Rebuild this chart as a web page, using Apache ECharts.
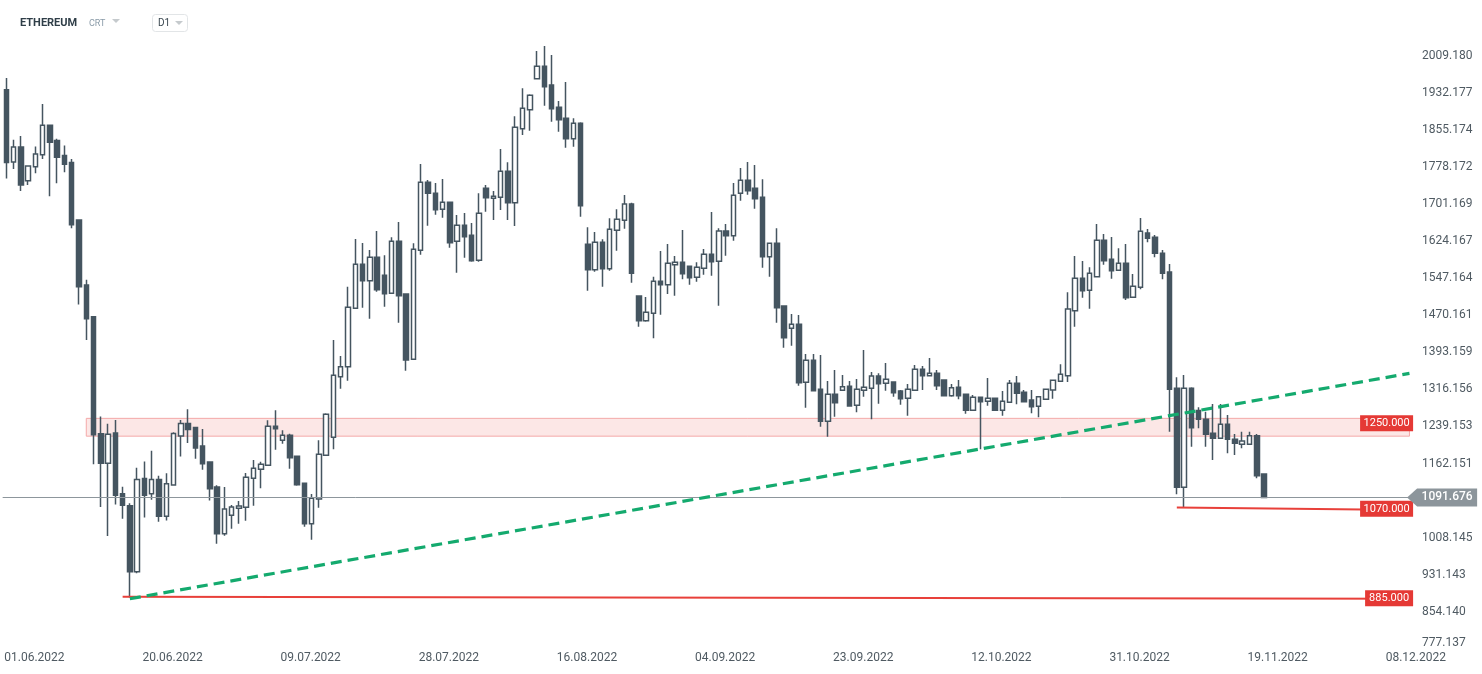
<!DOCTYPE html>
<html><head><meta charset="utf-8">
<script src="https://cdn.jsdelivr.net/npm/echarts@6/dist/echarts.min.js"></script>
<style>html,body{margin:0;padding:0;background:#fff;}#c{width:1482px;height:674px;}</style>
</head><body><div id="c"></div>
<script>
// rows: [open, high, low, close]
const junOHLC = [
[1939.0,1963.4,1754.5,1787.8],[1789.2,1835.0,1774.5,1820.2],[1820.2,1843.1,1728.7,1741.3],[1750.1,1781.0,1741.3,1780.4],
[1778.9,1821.0,1765.6,1805.5],[1804.0,1909.5,1795.1,1865.2],[1865.2,1866.5,1717.7,1829.8],[1833.5,1837.2,1744.9,1798.8],
[1802.5,1823.2,1767.8,1784.1],[1787.8,1795.1,1651.2,1658.6],[1668.2,1669.7,1492.6,1529.5],[1533.2,1544.2,1418.8,1463.0],
[1467.5,1468.0,1160.5,1221.7],[1223.9,1260.1,1071.9,1162.7],[1162.7,1244.6,1011.4,1223.2],[1225.4,1252.7,1077.1,1096.3],
[1099.2,1114.0,1047.5,1075.6],[1074.1,1079.3,883.7,936.9],[936.9,1153.1,933.9,1128.7],[1130.9,1166.4,1049.8,1096.3],
[1099.2,1188.5,1086.6,1128.7],[1128.7,1136.8,1040.9,1052.7],[1052.7,1142.0,1043.8,1119.9],[1117.7,1227.0,1116.2,1224.7],
[1219.5,1252.7,1176.7,1245.3],[1245.3,1274.9,1204.7,1232.8],[1236.9,1237.5,1172.0,1194.4],[1198.6,1233.9,1149.4,1161.9],
[1165.3,1166.0,1085.0,1109.9],[1113.4,1116.8,995.5,1016.3]
];
const julOHLC = [
[1016.3,1113.4,1012.2,1067.6],[1054.4,1075.9,1026.7,1071.8],[1069.0,1084.2,1037.1,1073.8],[1071.1,1142.4,1043.4,1133.4],
[1131.4,1169.5,1074.5,1152.2],[1150.1,1166.0,1110.6,1160.5],[1158.4,1252.0,1157.0,1239.5],[1239.5,1272.7,1191.0,1234.6],
[1210.4,1231.2,1203.4,1220.8],[1220.8,1224.2,1151.5,1174.3],[1177.1,1178.0,1116.1,1118.2],[1121.0,1122.0,1030.9,1037.1],
[1037.1,1098.8,1003.9,1089.8],[1088.4,1210.4,1070.4,1181.3],[1179.2,1266.5,1178.0,1264.4],[1216.6,1418.9,1191.6,1345.5],
[1342.7,1385.7,1317.8,1363.5],[1363.5,1529.8,1334.4,1486.8],[1484.8,1628.9,1484.0,1576.2],[1576.2,1620.6,1486.2,1542.3],
[1542.3,1606.0,1463.3,1590.8],[1590.8,1645.6,1519.4,1523.6],[1553.4,1595.0,1488.2,1515.3],[1516.0,1632.4,1515.0,1624.1],
[1624.1,1664.3,1455.0,1511.1],[1514.6,1515.5,1355.2,1377.4],[1378.8,1619.9,1378.0,1607.4],[1605.4,1784.8,1596.4,1746.7],
[1746.7,1751.6,1656.6,1723.9],[1723.9,1745.3,1679.5,1689.9],[1690.6,1753.7,1673.3,1705.1]
];
const augOHLC = [
[1705.1,1706.0,1610.9,1621.3],[1624.1,1678.8,1558.9,1657.3],[1657.3,1683.0,1590.1,1633.8],[1636.5,1662.2,1581.8,1583.9],
[1584.6,1723.9,1581.8,1682.3],[1734.2,1741.2,1685.7,1714.8],[1713.4,1728.7,1668.4,1717.6],[1715.5,1816.0,1689.2,1769.6],
[1769.6,1788.3,1668.4,1704.4],[1704.4,1883.9,1655.9,1861.0],[1858.3,1942.1,1845.1,1900.5],[1897.8,1929.7,1854.1,1927.6],
[1962.2,2019.7,1960.8,1987.9],[1987.9,2030.1,1906.1,1945.6],[1949.1,2011.4,1872.8,1899.9],[1902.6,1915.8,1852.0,1877.0],
[1879.7,1955.3,1818.8,1837.5],[1837.5,1879.7,1820.8,1869.4],[1869.4,1871.4,1675.3,1698.2],[1617.8,1653.1,1521.5,1565.1],
[1565.1,1643.4,1561.0,1621.9],[1621.9,1628.2,1529.8,1567.2],[1567.2,1671.8,1563.0,1649.0],[1646.9,1690.6,1604.6,1669.8],
[1667.7,1720.4,1650.4,1701.7],[1701.7,1704.4,1538.1,1557.5],[1510.4,1511.0,1446.6,1459.1],[1459.1,1508.3,1457.1,1476.5],
[1474.4,1550.6,1422.4,1540.9],[1540.9,1604.0,1471.6,1534.0],[1534.0,1618.5,1514.6,1578.3]
];
const sepOHLC = [
[1575.6,1593.6,1511.1,1580.4],[1580.4,1647.6,1545.1,1556.8],[1572.1,1573.0,1534.0,1548.5],[1549.2,1580.4,1540.2,1570.0],
[1567.9,1608.1,1554.8,1597.1],[1597.1,1685.1,1552.7,1581.8],[1582.5,1651.1,1490.3,1645.6],[1645.6,1660.1,1594.3,1635.8],
[1635.8,1745.3,1625.4,1719.7],[1723.9,1776.5,1708.6,1750.9],[1750.9,1789.0,1721.1,1729.4],[1734.2,1782.8,1692.0,1712.8],
[1715.5,1752.9,1569.3,1592.2],[1592.2,1620.5,1550.6,1619.9],[1619.9,1651.1,1455.0,1486.2],[1489.6,1490.5,1403.0,1423.8],
[1443.2,1473.0,1407.2,1451.5],[1451.5,1470.9,1324.0,1330.2],[1330.9,1389.8,1278.3,1376.7],[1376.7,1389.8,1313.0,1313.6],
[1316.4,1387.8,1238.8,1249.9],[1249.9,1333.7,1218.0,1306.0],[1306.0,1356.6,1259.6,1288.7],[1314.3,1346.2,1313.5,1321.9],
[1322.6,1333.7,1280.3,1281.7],[1283.1,1337.9,1268.6,1316.4],[1314.3,1398.2,1301.1,1320.5],[1318.5,1352.4,1254.0,1344.1],
[1344.1,1349.6,1286.6,1328.2],[1328.9,1371.1,1313.6,1337.2]
];
const octOHLC = [
[1331.6,1332.5,1301.1,1309.5],[1312.9,1315.0,1284.5,1297.0],[1297.7,1327.5,1261.6,1316.4],[1314.3,1367.0,1313.5,1358.0],
[1358.0,1364.9,1315.0,1344.8],[1344.8,1381.5,1344.0,1349.6],[1349.6,1356.6,1315.0,1324.0],[1335.8,1336.5,1302.5,1303.2],
[1303.2,1327.5,1301.1,1319.9],[1320.5,1335.8,1295.6,1303.2],[1306.0,1306.5,1265.8,1272.7],[1272.7,1304.6,1272.0,1299.7],
[1299.7,1301.0,1191.6,1290.7],[1291.4,1339.9,1282.4,1297.7],[1297.7,1298.5,1272.0,1272.7],[1272.7,1312.9,1261.6,1291.4],
[1289.3,1335.8,1288.5,1328.9],[1328.9,1344.1,1285.2,1308.1],[1310.1,1315.0,1290.0,1290.7],[1294.2,1315.0,1266.5,1280.3],
[1281.0,1301.5,1258.2,1301.1],[1295.6,1316.8,1294.2,1316.4],[1315.0,1335.5,1297.0,1335.1],[1333.0,1368.4,1332.5,1347.6],
[1344.8,1518.0,1331.6,1483.4],[1479.9,1593.6,1446.7,1547.1],[1547.1,1583.2,1507.0,1521.5],[1522.2,1570.0,1484.1,1557.5],
[1550.6,1660.1,1550.0,1626.1],[1626.1,1639.3,1575.6,1583.9],[1586.6,1633.1,1546.5,1563.1]
];
const novOHLC = [
[1563.8,1609.5,1563.0,1578.3],[1578.3,1618.5,1502.1,1506.9],[1507.6,1556.2,1507.0,1530.5],[1528.4,1672.6,1524.3,1644.9],
[1641.4,1649.7,1622.0,1630.3],[1632.4,1637.2,1590.8,1599.1],[1599.1,1606.0,1545.1,1557.5],[1560.3,1576.9,1228.4,1316.4],
[1318.5,1341.3,1098.1,1112.6],[1112.6,1346.2,1070.0,1318.5],[1318.5,1320.6,1197.2,1236.7],[1272.1,1279.0,1235.3,1254.0],
[1254.0,1270.0,1197.2,1222.9],[1224.9,1285.9,1169.5,1214.5],[1214.5,1285.9,1214.0,1243.6],[1243.6,1263.1,1183.4,1212.5],
[1212.5,1223.6,1179.9,1204.1],[1202.1,1228.4,1193.8,1209.0],[1202.1,1228.4,1201.5,1220.1],[1220.1,1223.6,1131.4,1136.9],
[1140.4,1141.8,1089.8,1091.676]
];
const lastPrice = 1091.676;
const yTickLabels = ['777.137','854.140','931.143','1008.145','1162.151','1239.153','1316.156','1393.159','1470.161','1547.164','1624.167','1701.169','1778.172','1855.174','1932.177','2009.180'];
const zoneTop = 1256, zoneBottom = 1219, zoneStartIdx = 11;
const trendLine = [[17, 881], [193, 1349.5]];
const support885 = [[16, 885], [193, 881]];
const support1070 = [[161, 1070.5], [193, 1065.5]];
const tags = [{v: 1246, text: '1250.000', w: 53}, {v: 1068, text: '1070.000', w: 53}, {v: 882, text: '885.000', w: 48}];

const N_CAT = 194;
const dates = [];
const start = Date.UTC(2022, 5, 1);
for (let i = 0; i < N_CAT; i++) {
  const d = new Date(start + i * 86400000);
  dates.push(String(d.getUTCDate()).padStart(2, '0') + '.' + String(d.getUTCMonth() + 1).padStart(2, '0') + '.' + d.getUTCFullYear());
}
const candles = [].concat(junOHLC, julOHLC, augOHLC, sepOHLC, octOHLC, novOHLC).map(r => [r[0], r[3], r[2], r[1]]);

const GRID = {left: 2.67, right: 68.9, top: 30, bottom: 25.3};
const FONT = 'Roboto, "Noto Sans", sans-serif';
const SLATE = '#455560';
const Y_MIN = 777.137;

const chart = echarts.init(document.getElementById('c'), null, {renderer: 'canvas'});
chart.setOption({
  animation: false,
  backgroundColor: '#ffffff',
  grid: GRID,
  xAxis: {
    type: 'category', data: dates, boundaryGap: true,
    axisLine: {show: false}, axisTick: {show: false}, splitLine: {show: false},
    axisLabel: {
      interval: (i) => i % 19 === 0, align: 'left', margin: 3,
      color: '#4f5a62', fontSize: 12, fontFamily: FONT, padding: [0, 0, 0, -2]
    }
  },
  yAxis: {
    type: 'value', position: 'right', min: Y_MIN, max: 2063.4, scale: true,
    axisLine: {show: false}, axisTick: {show: false}, splitLine: {show: false},
    axisLabel: {
      customValues: yTickLabels.map(Number), margin: 9,
      formatter: (v) => v === Y_MIN ? '{b|' + v.toFixed(3) + '}' : v.toFixed(3),
      rich: {b: {color: '#4f5a62', fontSize: 12, fontFamily: FONT, padding: [0, 0, 11, 0]}},
      color: '#4f5a62', fontSize: 12, fontFamily: FONT
    }
  },
  series: [
    {
      type: 'candlestick', data: candles, barWidth: 5, z: 2,
      itemStyle: {color: '#ffffff', color0: SLATE, borderColor: SLATE, borderColor0: SLATE, borderWidth: 1.5},
      markLine: {
        silent: true, symbol: ['none', 'none'], label: {show: false},
        lineStyle: {color: '#8d969c', width: 1, type: 'solid'},
        data: [{yAxis: lastPrice}]
      }
    },
    {
      type: 'line', data: [], z: 4, silent: true,
      markArea: {
        silent: true,
        itemStyle: {color: 'rgba(229,57,53,0.12)', borderColor: '#f4a9a9', borderWidth: 1},
        data: [[{xAxis: zoneStartIdx, yAxis: zoneTop}, {xAxis: N_CAT - 1, yAxis: zoneBottom}]]
      }
    },
    {
      type: 'line', data: support885, symbol: 'none', z: 5, silent: true,
      lineStyle: {color: '#e8403a', width: 2}
    },
    {
      type: 'line', data: support1070, symbol: 'none', z: 5, silent: true,
      lineStyle: {color: '#e8403a', width: 2}
    },
    {
      type: 'line', data: trendLine, symbol: 'none', z: 6, silent: true,
      lineStyle: {color: '#14aa6e', width: 3.2, type: [11, 6]}
    }
  ]
});

const rx = chart.getWidth() - GRID.right;
const py = (v) => chart.convertToPixel({yAxisIndex: 0}, v);
const g = [];
tags.forEach(t => {
  const y = py(t.v);
  g.push({type: 'rect', z: 100, shape: {x: rx - t.w, y: y - 8, width: t.w, height: 16}, style: {fill: '#e53935'}});
  g.push({type: 'text', z: 101, style: {x: rx - t.w / 2, y: y, text: t.text, fill: '#ffffff', font: '11px ' + FONT, align: 'center', verticalAlign: 'middle'}});
});
const ly = py(lastPrice);
g.push({type: 'polygon', z: 100, shape: {points: [[rx - 6, ly], [rx + 4, ly - 9], [rx + 64, ly - 9], [rx + 64, ly + 9], [rx + 4, ly + 9]]}, style: {fill: '#8c959b'}});
g.push({type: 'text', z: 101, style: {x: rx + 34, y: ly, text: lastPrice.toFixed(3), fill: '#ffffff', font: '500 12px ' + FONT, align: 'center', verticalAlign: 'middle'}});
// header
g.push({type: 'text', z: 100, style: {x: 20, y: 23, text: 'ETHEREUM', fill: '#2f3e48', font: 'bold 11px ' + FONT, verticalAlign: 'middle'}});
g.push({type: 'text', z: 100, style: {x: 89, y: 24, text: 'CRT', fill: '#8a9ba8', font: '9px ' + FONT, verticalAlign: 'middle'}});
g.push({type: 'polygon', z: 100, shape: {points: [[112, 19], [120, 19], [116, 23]]}, style: {fill: '#c5cacd'}});
g.push({type: 'rect', z: 100, shape: {x: 152.5, y: 14.5, width: 35, height: 17, r: 3}, style: {fill: '#ffffff', stroke: '#e2e5e7', lineWidth: 1}});
g.push({type: 'text', z: 101, style: {x: 158, y: 23, text: 'D1', fill: '#3a4750', font: '10px ' + FONT, verticalAlign: 'middle'}});
g.push({type: 'polygon', z: 101, shape: {points: [[175, 21], [183, 21], [179, 25]]}, style: {fill: '#c5cacd'}});
chart.setOption({graphic: g});
</script>
</body></html>
